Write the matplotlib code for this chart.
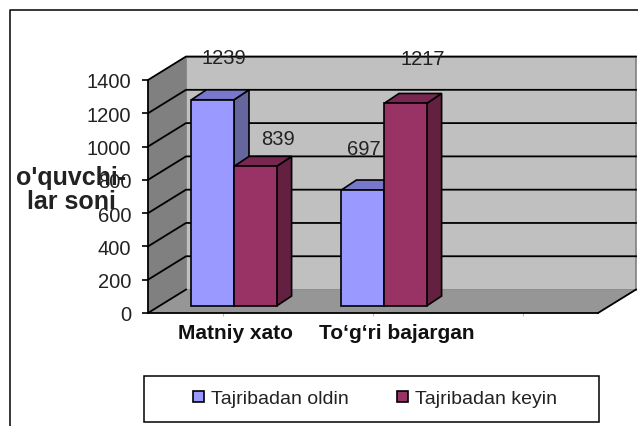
import matplotlib
matplotlib.use("Agg")
import matplotlib.pyplot as plt
from matplotlib.lines import Line2D
from matplotlib.patches import Polygon, Rectangle
from matplotlib.transforms import ScaledTranslation

plt.rcParams["font.family"] = ["Liberation Sans", "DejaVu Sans"]

categories = ["Matniy xato", "To\u2018g\u2018ri bajargan", ""]
before = [1239, 697]
after = [839, 1217]
series_names = ["Tajribadan oldin", "Tajribadan keyin"]
y_ticks = [0, 200, 400, 600, 800, 1000, 1200, 1400]
y_title = "o'quvchi-\nlar soni"

W, H = 638, 427
DEPTH_X, DEPTH_Y = 0.2533, 141  # chart depth in data units
BAR_X, BAR_Y = 0.0733, 42       # how far bars sit behind the front edge
BAR_DX, BAR_DY = 0.1, 60        # depth of one bar
BAR_W = 0.284
COLORS = [("#9999FF", "#7777CC", "#66669F"), ("#993366", "#782850", "#642040")]
LABEL_OFFSETS = [[(11, 42), (1, 42)], [(23, 28), (17, 45)]]  # px from bar top
CAT_SHIFT = [12, 24]


def face(ax, pts, color, z, edge="black", lw=1.2):
    ax.add_patch(Polygon(pts, closed=True, facecolor=color, edgecolor=edge,
                         linewidth=lw, clip_on=False, zorder=z))


def main() -> None:
    fig = plt.figure(figsize=(W / 100, H / 100), dpi=100)
    ax = fig.add_axes([148 / W, (H - 314) / H, 450 / W, 233 / H])
    x0, x1 = -0.5, 2.5
    top = y_ticks[-1]
    ax.set_xlim(x0, x1)
    ax.set_ylim(0, top)
    ax.patch.set_visible(False)

    # outer chart frame, open on the right and at the bottom
    fig.add_artist(Line2D([9.5 / W, 9.5 / W, 1], [0, (H - 10.5) / H, (H - 10.5) / H],
                          color="black", lw=1.1))

    # walls and floor
    face(ax, [(x0 + DEPTH_X, DEPTH_Y), (x1 + DEPTH_X, DEPTH_Y),
              (x1 + DEPTH_X, top + DEPTH_Y), (x0 + DEPTH_X, top + DEPTH_Y)],
         "#C0C0C0", 1, edge="#808080")
    face(ax, [(x0, 0), (x0 + DEPTH_X, DEPTH_Y),
              (x0 + DEPTH_X, top + DEPTH_Y), (x0, top)], "#808080", 1, edge="none")
    face(ax, [(x0, 0), (x1, 0), (x1 + DEPTH_X, DEPTH_Y), (x0 + DEPTH_X, DEPTH_Y)],
         "#969696", 1, edge="none")
    ax.plot([x1, x1 + DEPTH_X], [0, DEPTH_Y], color="black", lw=1.3, clip_on=False, zorder=2)

    # grid runs along the side wall and the back wall
    for t in y_ticks:
        xs = [x0, x0 + DEPTH_X] + ([x1 + DEPTH_X] if t > 0 else [])
        ys = [t, t + DEPTH_Y] + ([t + DEPTH_Y] if t > 0 else [])
        ax.plot(xs, ys, color="black", lw=1.3, clip_on=False, zorder=2)

    # bars, left series first so the right one overlaps it
    for s, values in enumerate([before, after]):
        front, roof, side = COLORS[s]
        xs = [i + BAR_X + (s - 0.5) * BAR_W for i in range(len(values))]
        for x, v in zip(xs, values):
            l, r = x - BAR_W / 2, x + BAR_W / 2
            b, t = BAR_Y, v + BAR_Y
            face(ax, [(r, b), (r + BAR_DX, b + BAR_DY), (r + BAR_DX, t + BAR_DY), (r, t)], side, 3 + s)
            face(ax, [(l, t), (r, t), (r + BAR_DX, t + BAR_DY), (l + BAR_DX, t + BAR_DY)], roof, 3 + s)
        ax.bar(xs, values, BAR_W, bottom=BAR_Y, color=front, edgecolor="black",
               linewidth=1.2, zorder=3.5 + s, label=series_names[s])
        for x, v, (dx, dy) in zip(xs, values, LABEL_OFFSETS[s]):
            ax.annotate(str(v), xy=(x, v + BAR_Y), xytext=(dx * 0.72, dy * 0.72),
                        textcoords="offset points", ha="center", va="center",
                        fontsize=14.5, color="#222222", zorder=10, annotation_clip=False)

    # axes
    for side_name in ["top", "right"]:
        ax.spines[side_name].set_visible(False)
    ax.spines["left"].set_linewidth(1.3)
    ax.spines["bottom"].set_linewidth(1.3)
    ax.set_yticks(y_ticks)
    ax.tick_params(axis="y", length=4, width=1.2, labelsize=14.5, labelcolor="#222222", pad=8)
    ax.set_xticks(range(len(categories)), categories)
    ax.tick_params(axis="x", length=2, width=0.5, color="#999999", pad=5)
    for i, lab in enumerate(ax.get_xticklabels()[:2]):
        lab.set_fontsize(15)
        lab.set_fontweight("bold")
        lab.set_color("#111111")
        lab.set_transform(lab.get_transform() + ScaledTranslation(CAT_SHIFT[i] / 100, 0, fig.dpi_scale_trans))

    ax.set_ylabel(y_title, rotation=0, ha="center", va="center", fontsize=18,
                  fontweight="bold", color="#222222", linespacing=0.95, zorder=10)
    ax.yaxis.set_label_coords((71 - 148) / 450, (314 - 190) / 233)

    # legend box plus a frameless legend inside it
    fig.add_artist(Rectangle((144 / W, (H - 423) / H), 455 / W, 46 / H, facecolor="white",
                             edgecolor="black", linewidth=1.1, transform=fig.transFigure))
    handles, labels = ax.get_legend_handles_labels()
    leg = fig.legend(handles, labels, ncols=2, frameon=False, fontsize=14,
                     loc="center", bbox_to_anchor=(375 / W, (H - 400) / H),
                     handlelength=0.55, handleheight=0.55, handletextpad=0.35,
                     columnspacing=2.5, borderpad=0, borderaxespad=0)
    leg.set_zorder(5)
    for t in leg.get_texts():
        t.set_color("#222222")

    fig.savefig("out.png", dpi=100)


if __name__ == "__main__":
    main()
